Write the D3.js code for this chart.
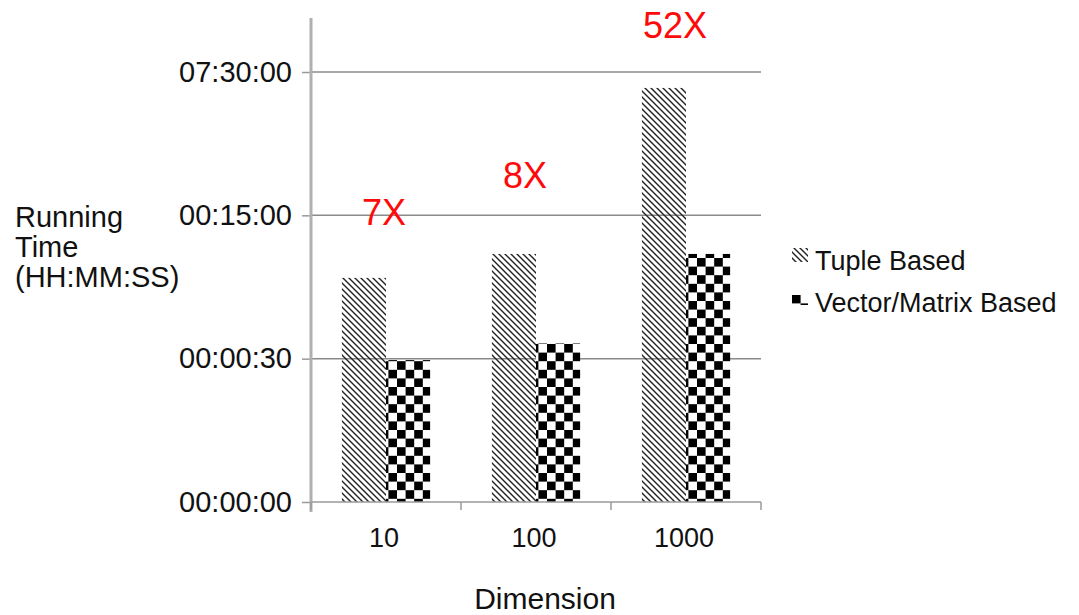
<!DOCTYPE html>
<html>
<head>
<meta charset="utf-8">
<script src="https://cdn.jsdelivr.net/npm/d3@7"></script>
<style>
  body { margin: 0; background: #fff; }
  text { font-family: "Liberation Sans", Arial, Helvetica, sans-serif; fill: #111; }
</style>
</head>
<body>
<main></main>
<script>
// data (seconds, log scale)
const dimensions = ['10', '100', '1000'];
const seriesNames = ['Tuple Based', 'Vector/Matrix Based'];
const tupleSeconds = [204, 360, 18500];
const matrixSeconds = [29, 43, 360];
const speedups = ['7X', '8X', '52X'];
const speedupAt = [716, 1720, 60500]; // where the red labels sit, in seconds
const tickSeconds = [1, 30, 900, 27000];
const tickLabels = ['00:00:00', '00:00:30', '00:15:00', '07:30:00'];

const width = 1079;
const height = 615;
const plotLeft = 311, plotRight = 761, plotTop = 18, plotBottom = 502;
const fontSize = 27;

const svg = d3.select('main')
  .append('svg')
  .attr('width', width)
  .attr('height', height);

// patterns
const defs = svg.append('defs');
const stripes = defs.append('pattern')
  .attr('id', 'stripes')
  .attr('patternUnits', 'userSpaceOnUse')
  .attr('width', 6)
  .attr('height', 6);
stripes.append('path')
  .attr('d', 'M0,0 L6,6 M-1,5 L1,7 M5,-1 L7,1')
  .attr('stroke', '#222')
  .attr('stroke-width', 1.4);

const checker = defs.append('pattern')
  .attr('id', 'checker')
  .attr('patternUnits', 'userSpaceOnUse')
  .attr('width', 17.2)
  .attr('height', 17.2);
checker.append('rect').attr('width', 17.2).attr('height', 17.2).attr('fill', '#fff');
checker.append('rect').attr('width', 8.6).attr('height', 8.6).attr('fill', '#000');
checker.append('rect').attr('x', 8.6).attr('y', 8.6).attr('width', 8.6).attr('height', 8.6).attr('fill', '#000');

const fills = ['url(#stripes)', 'url(#checker)'];

// scales
const yScale = d3.scaleLog()
  .domain([tickSeconds[0], tickSeconds[tickSeconds.length - 1]])
  .range([plotBottom, 72]);

const xScale = d3.scaleBand()
  .domain(dimensions)
  .range([plotLeft, plotRight]);

const innerScale = d3.scaleBand()
  .domain(seriesNames)
  .range([0, xScale.bandwidth()])
  .paddingOuter(0.7);

// gridlines
svg.append('g')
  .selectAll('line')
  .data(tickSeconds.slice(1))
  .enter()
  .append('line')
  .attr('x1', plotLeft)
  .attr('x2', plotRight)
  .attr('y1', d => yScale(d))
  .attr('y2', d => yScale(d))
  .attr('stroke', '#8a8a8a')
  .attr('stroke-width', 1.5);

// bars
const rows = dimensions.map((dim, i) => ({ dim, values: [tupleSeconds[i], matrixSeconds[i]] }));
svg.append('g')
  .selectAll('g')
  .data(rows)
  .enter()
  .append('g')
  .attr('transform', d => `translate(${xScale(d.dim)},0)`)
  .selectAll('rect')
  .data(d => d.values.map((v, j) => ({ name: seriesNames[j], v, j })))
  .enter()
  .append('rect')
  .attr('x', d => innerScale(d.name))
  .attr('y', d => yScale(d.v))
  .attr('width', innerScale.bandwidth())
  .attr('height', d => yScale(tickSeconds[0]) - yScale(d.v))
  .attr('fill', d => fills[d.j]);

// y axis
const yAxis = svg.append('g')
  .attr('transform', `translate(${plotLeft},0)`)
  .call(d3.axisLeft(yScale)
    .tickValues(tickSeconds)
    .tickFormat((d, i) => tickLabels[i])
    .tickSize(9)
    .tickPadding(10));
yAxis.select('.domain').remove();
yAxis.append('line')
  .attr('y1', plotTop)
  .attr('y2', plotBottom + 10)
  .attr('stroke', '#b0b0b0')
  .attr('stroke-width', 3);
yAxis.selectAll('.tick line').attr('stroke', '#9a9a9a').attr('stroke-width', 1.5);
yAxis.selectAll('.tick text')
  .style('font-size', '29px')
  .attr('fill', '#111');

// x axis, ticks at the band edges
const xAxis = svg.append('g')
  .attr('transform', `translate(0,${plotBottom})`);
xAxis.append('line')
  .attr('x1', plotLeft)
  .attr('x2', plotRight)
  .attr('stroke', '#9a9a9a')
  .attr('stroke-width', 1.5);
xAxis.selectAll('line.edge')
  .data(dimensions.concat(['end']))
  .enter()
  .append('line')
  .attr('class', 'edge')
  .attr('x1', (d, i) => i < dimensions.length ? xScale(d) : plotRight)
  .attr('x2', (d, i) => i < dimensions.length ? xScale(d) : plotRight)
  .attr('y2', 8)
  .attr('stroke', '#9a9a9a')
  .attr('stroke-width', 1.5);
xAxis.selectAll('text')
  .data(dimensions)
  .enter()
  .append('text')
  .attr('x', d => xScale(d) + xScale.bandwidth() / 2 - 2)
  .attr('y', 45)
  .attr('text-anchor', 'middle')
  .style('font-size', fontSize + 'px')
  .text(d => d);

// axis titles
svg.append('text')
  .attr('x', 545)
  .attr('y', 609)
  .attr('text-anchor', 'middle')
  .style('font-size', '30px')
  .text('Dimension');

svg.append('text')
  .attr('x', 15)
  .attr('y', 227)
  .style('font-size', '29px')
  .selectAll('tspan')
  .data(['Running', 'Time', '(HH:MM:SS)'])
  .enter()
  .append('tspan')
  .attr('x', 15)
  .attr('dy', (d, i) => i === 0 ? 0 : 30)
  .text(d => d);

// speedup labels
svg.append('g')
  .selectAll('text')
  .data(speedups)
  .enter()
  .append('text')
  .attr('x', (d, i) => xScale(dimensions[i]) + xScale.bandwidth() / 2 - (i === 0 ? 2 : 11))
  .attr('y', (d, i) => yScale(speedupAt[i]))
  .attr('text-anchor', 'middle')
  .style('font-size', '36px')
  .style('fill', '#ff0a0a')
  .text(d => d);

// legend
const legend = svg.append('g')
  .selectAll('g')
  .data(seriesNames)
  .enter()
  .append('g')
  .attr('transform', (d, i) => `translate(792,${270 + i * 42})`);
legend.append('rect')
  .attr('y', (d, i) => i === 0 ? -22 : -17)
  .attr('width', 16)
  .attr('height', (d, i) => i === 0 ? 14 : 10)
  .attr('fill', (d, i) => fills[i]);
legend.append('text')
  .attr('x', 23)
  .style('font-size', '27px')
  .text(d => d);
</script>
</body>
</html>
